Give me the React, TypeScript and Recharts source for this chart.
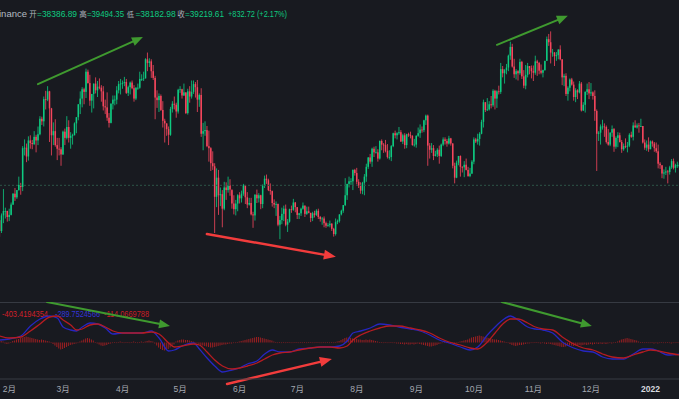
import React from 'react';
import { ComposedChart, Bar, Line, XAxis, YAxis, ReferenceLine } from 'recharts';

// ---------- data (prices in thousand USDT, day index 0 = 2021-01-27) ----------
const FIRST_OPEN = 32.47;

const CLOSE = [
  30.37, 33.40, 34.25, 34.26, 33.09,
  33.5, 35.5, 37.6, 36.9, 38.3, 39.3, 38.9, 46.4, 46.5, 44.8, 47.9, 47.4, 47.2, 48.6, 47.9, 49.1, 52.1, 51.6, 55.9, 55.8, 57.4, 54.1, 48.9, 49.7, 47.0, 46.3, 46.2, 45.2,
  49.6, 48.4, 50.5, 48.4, 48.8, 48.9, 51.2, 52.4, 54.9, 56.0, 57.8, 57.3, 61.2, 59.0, 55.6, 56.9, 58.9, 57.6, 58.3, 58.1, 57.4, 54.5, 54.3, 52.3, 51.3, 55.0, 55.8, 55.8, 57.6, 58.8, 58.9,
  59.0, 59.2, 57.1, 58.2, 59.1, 58.0, 56.0, 58.1, 58.1, 59.8, 59.8, 59.9, 63.6, 62.9, 63.2, 61.3, 60.0, 56.2, 55.7, 56.5, 53.8, 51.7, 51.2, 50.1, 49.0, 54.0, 55.0, 54.8, 53.5, 57.7,
  57.8, 56.6, 57.2, 53.2, 57.4, 56.4, 57.3, 58.8, 58.2, 55.8, 56.7, 49.2, 49.7, 49.9, 46.8, 46.4, 43.5, 42.9, 37.0, 40.7, 37.3, 37.5, 34.7, 38.8, 38.3, 39.2, 38.4, 35.7, 34.6, 35.7, 37.3,
  36.7, 37.6, 39.2, 36.9, 35.5, 35.8, 33.6, 33.4, 37.4, 36.7, 37.3, 35.6, 39.1, 40.5, 40.2, 38.3, 38.1, 35.8, 35.5, 35.6, 31.6, 32.5, 33.7, 34.7, 31.6, 32.2, 34.6, 34.5, 35.9, 35.0,
  33.5, 33.8, 34.7, 35.3, 33.7, 34.2, 33.9, 32.9, 33.8, 33.5, 34.3, 33.1, 32.7, 32.8, 31.9, 31.4, 31.5, 31.8, 30.8, 29.8, 32.1, 32.3, 33.6, 34.3, 35.4, 37.3, 39.5, 40.0, 40.0, 42.2, 41.6,
  39.9, 39.2, 38.2, 39.7, 40.9, 42.8, 44.6, 43.8, 46.3, 45.6, 45.6, 44.4, 47.8, 47.1, 47.0, 45.9, 44.7, 44.7, 46.8, 49.3, 48.9, 49.3, 49.5, 47.7, 48.9, 47.0, 49.1, 48.9, 48.8, 47.0, 47.1,
  48.8, 49.3, 50.0, 49.9, 51.8, 52.7, 46.9, 46.1, 46.4, 44.9, 45.2, 46.1, 44.9, 47.1, 48.1, 47.8, 47.3, 48.3, 47.3, 43.0, 40.7, 43.6, 44.9, 42.8, 42.7, 43.2, 42.2, 41.0, 41.5, 43.8,
  48.1, 47.7, 48.2, 49.2, 51.5, 55.3, 53.8, 53.9, 54.9, 54.7, 57.5, 56.0, 57.4, 57.3, 61.7, 60.9, 61.5, 62.0, 64.3, 66.0, 62.2, 60.7, 61.3, 60.9, 63.1, 60.3, 58.5, 60.6, 62.3, 61.9, 61.3,
  61.0, 63.2, 62.9, 61.4, 61.0, 61.5, 63.3, 67.5, 66.9, 64.9, 64.9, 64.2, 64.4, 65.5, 63.6, 60.1, 60.4, 56.9, 58.1, 59.7, 58.7, 56.3, 57.6, 57.2, 58.9, 53.7, 54.8, 57.3, 57.8, 57.0,
  57.2, 56.5, 53.6, 49.2, 49.4, 50.6, 50.6, 50.5, 47.6, 47.1, 49.4, 50.1, 46.7, 48.4, 48.9, 47.6, 46.2, 46.8, 46.7, 46.9, 49.0, 48.6, 50.8, 50.4, 50.8, 50.7, 50.7, 47.5, 46.5, 47.1, 46.2,
  47.7, 47.3, 46.4, 45.8, 43.4, 43.1, 41.5, 41.7, 41.9, 41.8, 42.7, 43.9, 42.6, 43.1, 43.1, 43.1,
];

const HIGH = [
  32.56, 33.78, 38.5, 34.9, 34.3,
  34.7, 35.9, 37.7, 38.7, 38.3, 40.9, 39.7, 46.8, 48.1, 47.3, 48.7, 48.9, 48.0, 49.7, 49.0, 50.6, 52.6, 52.5, 56.4, 57.5, 58.4, 57.5, 54.2, 51.4, 52.0, 48.4, 48.4, 46.6,
  49.8, 50.2, 52.6, 51.8, 49.5, 49.2, 51.4, 52.4, 54.9, 57.4, 58.2, 58.1, 61.8, 61.6, 60.6, 56.9, 58.9, 60.1, 59.4, 59.9, 58.6, 58.4, 55.8, 57.2, 53.2, 55.1, 56.6, 56.6, 58.4, 59.4, 59.8,
  59.5, 60.2, 59.8, 58.5, 59.3, 59.5, 58.6, 58.2, 58.9, 61.2, 60.7, 61.2, 63.8, 64.9, 63.8, 63.6, 62.5, 60.4, 57.6, 57.0, 56.8, 55.5, 52.1, 51.2, 50.6, 54.4, 55.5, 56.4, 55.2, 57.9,
  58.4, 57.9, 58.9, 57.2, 57.9, 58.4, 59.5, 59.5, 59.2, 59.6, 57.0, 58.0, 51.3, 51.6, 50.7, 49.8, 46.6, 45.8, 43.5, 42.5, 42.2, 38.8, 38.3, 39.9, 39.8, 40.9, 40.4, 38.2, 37.3, 36.4, 37.5,
  37.9, 38.2, 39.5, 39.3, 37.9, 36.8, 36.8, 34.1, 37.5, 38.4, 37.7, 37.4, 39.4, 41.1, 41.3, 40.5, 39.6, 38.2, 36.5, 36.1, 35.7, 33.3, 34.9, 35.3, 35.5, 32.7, 34.7, 35.3, 36.6, 36.0,
  35.0, 33.9, 34.9, 35.9, 35.3, 35.1, 35.1, 33.9, 34.1, 34.3, 34.6, 34.7, 33.3, 33.1, 33.2, 32.2, 31.9, 32.4, 31.9, 31.0, 32.8, 32.6, 33.6, 34.5, 35.4, 40.6, 39.5, 40.9, 40.6, 42.3, 42.4,
  42.6, 40.4, 39.8, 39.9, 41.4, 43.4, 44.7, 45.3, 46.5, 46.7, 46.8, 46.2, 47.9, 48.1, 47.4, 48.0, 47.2, 46.0, 47.0, 49.4, 49.8, 49.5, 50.5, 49.9, 49.2, 49.3, 49.2, 49.4, 49.6, 48.9, 48.2,
  48.9, 50.4, 51.0, 50.6, 51.9, 52.9, 52.9, 47.4, 47.4, 47.0, 45.9, 46.4, 46.9, 47.3, 48.5, 48.5, 48.2, 48.8, 48.4, 47.4, 43.6, 44.0, 44.9, 45.0, 42.9, 43.9, 44.4, 42.8, 42.6, 44.1,
  48.5, 48.4, 49.2, 49.5, 51.9, 55.8, 55.3, 56.1, 55.5, 56.5, 57.8, 57.7, 57.6, 58.5, 62.9, 62.3, 61.7, 62.7, 64.5, 67.0, 66.6, 63.7, 61.7, 61.5, 63.7, 63.3, 61.5, 62.5, 62.9, 62.3, 62.4,
  62.4, 64.3, 63.5, 63.1, 62.6, 61.6, 63.3, 68.0, 68.5, 69.0, 65.6, 65.0, 65.0, 65.5, 66.3, 63.6, 60.8, 60.9, 58.4, 59.9, 60.0, 59.3, 58.0, 57.8, 59.4, 59.2, 55.3, 57.4, 58.9, 59.2,
  59.0, 57.4, 57.6, 53.9, 49.7, 51.0, 51.9, 51.2, 50.8, 50.1, 49.5, 50.8, 50.3, 48.7, 49.5, 49.4, 48.0, 47.3, 48.3, 47.6, 49.3, 49.6, 51.4, 51.8, 51.2, 51.3, 52.1, 50.7, 48.1, 47.9, 48.5,
  47.9, 47.9, 47.6, 47.5, 47.1, 43.7, 43.1, 42.3, 42.8, 42.2, 43.0, 44.3, 44.4, 43.4, 43.8, 43.5,
];

const LOW = [
  29.24, 30.0, 31.9, 32.8, 32.2,
  32.3, 33.4, 35.4, 36.2, 36.6, 38.2, 37.4, 38.1, 45.0, 43.7, 44.0, 46.3, 46.2, 47.0, 45.6, 47.0, 48.9, 50.9, 50.6, 53.9, 55.5, 47.6, 45.0, 47.0, 46.7, 44.1, 45.0, 43.0,
  45.1, 47.0, 48.1, 47.5, 46.3, 47.1, 48.9, 49.3, 51.8, 53.0, 54.3, 54.9, 56.1, 58.9, 54.6, 53.3, 54.1, 57.0, 56.3, 57.8, 55.4, 53.7, 53.0, 51.7, 50.4, 51.2, 53.9, 54.7, 54.9, 57.0, 56.8,
  57.9, 58.4, 56.9, 56.5, 56.8, 57.8, 55.4, 55.7, 57.7, 57.9, 59.4, 59.4, 59.9, 61.3, 62.1, 60.0, 59.6, 52.0, 54.2, 53.4, 53.6, 50.4, 47.5, 48.8, 47.0, 48.8, 53.3, 53.9, 52.3, 53.1,
  57.1, 56.0, 56.5, 53.0, 52.9, 55.2, 56.0, 56.9, 56.2, 53.4, 54.4, 48.6, 46.0, 48.8, 46.6, 43.8, 42.0, 42.2, 30.0, 35.0, 33.5, 35.2, 31.1, 34.4, 36.4, 37.8, 37.2, 34.7, 33.6, 33.4, 34.2,
  35.7, 35.9, 37.2, 35.6, 34.8, 35.3, 33.4, 31.0, 32.4, 35.8, 35.9, 34.6, 34.8, 38.7, 39.5, 38.1, 37.4, 35.1, 34.8, 33.3, 31.3, 28.8, 31.7, 32.3, 31.3, 30.2, 32.0, 33.9, 34.3, 34.0,
  32.7, 32.7, 33.3, 34.5, 33.1, 33.5, 33.8, 32.1, 32.3, 33.0, 33.3, 32.7, 32.2, 31.6, 31.1, 31.0, 31.2, 31.1, 30.4, 29.3, 29.5, 31.7, 32.0, 33.4, 33.9, 35.2, 36.4, 38.8, 39.3, 38.3, 41.1,
  39.4, 38.7, 37.6, 37.5, 37.3, 39.9, 42.4, 43.4, 42.8, 44.7, 45.4, 43.8, 44.2, 46.0, 45.5, 45.6, 44.4, 44.2, 43.9, 46.6, 48.3, 48.1, 49.0, 47.6, 47.2, 46.3, 46.4, 48.6, 48.3, 46.9, 46.7,
  46.5, 48.6, 48.4, 49.4, 49.5, 50.9, 43.0, 44.4, 45.5, 44.1, 44.8, 44.7, 43.4, 44.7, 46.8, 47.1, 46.7, 47.1, 46.9, 42.5, 39.6, 40.6, 43.1, 40.9, 41.7, 40.8, 42.1, 40.9, 40.8, 41.4,
  43.3, 47.4, 47.1, 46.9, 49.1, 50.4, 53.4, 53.6, 53.7, 54.1, 54.4, 53.9, 54.2, 56.8, 56.9, 60.1, 58.9, 60.7, 61.3, 63.5, 62.0, 60.0, 59.7, 59.5, 60.6, 59.8, 58.0, 57.8, 60.1, 60.7, 59.9,
  59.4, 60.6, 60.4, 60.7, 60.7, 60.1, 61.4, 63.3, 66.2, 62.8, 64.1, 62.3, 63.3, 63.6, 63.4, 58.6, 58.4, 56.5, 55.6, 57.4, 58.5, 55.6, 55.3, 55.9, 57.0, 53.5, 53.6, 53.3, 56.7, 55.9,
  56.5, 55.8, 51.7, 42.0, 47.8, 47.1, 50.0, 48.6, 47.3, 46.9, 46.8, 48.6, 45.7, 46.3, 46.6, 47.5, 45.5, 45.9, 46.4, 45.6, 46.6, 48.4, 47.9, 50.4, 50.2, 49.4, 50.5, 47.3, 46.1, 45.9, 45.7,
  46.2, 46.7, 45.7, 45.5, 42.5, 42.4, 40.6, 40.5, 41.2, 39.6, 41.3, 42.4, 42.3, 41.7, 42.6, 42.7,
];

const LAST_PRICE = 39.21961;

const MONTH_TICKS = [5, 33, 64, 94, 125, 155, 186, 217, 247, 278, 308, 339];
const MONTH_LABELS = ['2月', '3月', '4月', '5月', '6月', '7月', '8月', '9月', '10月', '11月', '12月', '2022'];

// MACD pane
const HIST = [
  100, 150, 100, -100, -150, -100, 50, 150, 200, 300,
  350, 450, 500, 550, 600, 550, 500, 450, 400, 350,
  300, 250, 300, 250, 200, 150, 100, 50,
  -150, -300, -450, -600, -700, -650, -550, -450,
  -350, -250, -200, -150, -100, -50,
  100, 200, 300, 400, 450, 400, 300, 200,
  50, -100, -200, -300, -350, -300, -250, -150,
  -100, -50, 50, -50, 50, 100, 50, -50, 50, 50, -50, 50, 100, 50, -50, 50, 100, 50,
  100, 150, 200, 150, 100, -100, -300, -500,
  -650, -750, -800, -750, -650, -500, -350, -200,
  100, 200, 250, 300, 300, 250, 250, 200, 150, 100, 50, -50, -150,
  -250, -300, -350, -400, -450, -500, -500, -450, -400, -350, -300, -250, -200, -200, -150, -100, -100, -50, -50, 50, 100,
  150, 200, 250, 300, 350, 400, 450, 500, 550, 550, 500, 450, 400, 350, 300, 250, 200, 100,
  50, -50, 50, 0, 50, -50, 50, 50, 0, -50, 50, 50, 0, 50, -50, 50, 0, 50, 50, -50, 0, 50, 50, 0, -50, 50, 0, 50, -50, 50, 0, 50, 100, 150,
  250, 350, 450, 500, 500, 450, 400, 350, 350, 300, 300, 250, 250,
  300, 250, 300, 250, 200, 150, 100, 50,
  50, -50, 50, 0, -50, 50, 0, -50, -100, -100,
  -150, -150, -200, -150, -200, -200, -150, -200, -150, -100, -150, -200, -250, -300, -350, -400,
  -400, -350, -300, -250, -150, -100, -50,
  50, -50, 50, -50, 0, 50, -50, 50, 100, 150, 200, 250, 300,
  400, 500, 550, 600, 650, 700, 650, 600, 550, 500, 450, 400, 350, 300, 300, 250,
  200, 150, 100, 50, -50, -150, -250, -300,
  -350, -300, -250, -250, -200, -150, -100, -100, -50, -50, 50,
  50, -50, -100, -50, -100, -150, -100, -150, -200, -250,
  -300, -350, -400, -450, -450, -400, -350, -300, -300, -350, -300,
  -300, -250, -300, -250, -200, -250, -200, -150, -200, -150, -100, -150, -100,
  -150, -100, -150, -100, -50, -100, -50, 50, 100, 200, 300, 350,
  400, 450, 400, 350, 300, 250, 200, 100, 50,
  50, -50, 50, 0, -50, 50, -100, -50, -100, -50, 50, -50, 0, 50, -50, -100, -50, 0, 50, -50,
];

const MACD_DAYS = [0, 5, 11, 16, 21, 26, 30, 33, 37, 40, 43, 47, 51, 55, 59, 64, 69, 74, 79, 83, 88, 91, 95, 101, 104, 108, 112, 116, 121, 125, 129, 134, 138, 142, 146, 151, 156, 162, 167, 172, 177, 181, 184, 188, 193, 198, 203, 208, 214, 219, 224, 229, 234, 240, 245, 249, 254, 258, 262, 266, 270, 275, 279, 283, 288, 293, 299, 304, 309, 314, 319, 325, 330, 335, 339, 343, 348, 354];
const MACD_LINE = [250, 350, 650, 1650, 2350, 2650, 2450, 1550, 1250, 1150, 1550, 1950, 1850, 1450, 850, 950, 950, 950, 1150, 450, -850, -750, -350, -50, -650, -1550, -2350, -2950, -2750, -2550, -2150, -1850, -1150, -750, -950, -950, -650, -550, -450, -450, -350, 150, 950, 1150, 1450, 1850, 1750, 1550, 1350, 1150, 750, 250, -50, -450, -750, -450, 750, 1550, 2250, 2650, 2250, 1550, 1350, 1250, 950, 50, -550, -850, -950, -1450, -1650, -1650, -1150, -650, -650, -850, -1250, -1150];
const SIGNAL_LINE = [650, 450, 550, 1150, 1850, 2550, 2650, 2250, 1750, 1250, 1350, 1750, 1850, 1550, 1150, 950, 950, 950, 1050, 850, -50, -450, -350, -150, -250, -950, -1750, -2350, -2650, -2550, -2350, -2050, -1650, -1250, -1050, -950, -750, -550, -450, -450, -550, -350, 250, 750, 1150, 1450, 1650, 1650, 1450, 1250, 950, 450, 50, -250, -550, -650, 50, 950, 1850, 2350, 2350, 1950, 1550, 1350, 1250, 550, -150, -550, -750, -1150, -1450, -1550, -1250, -950, -750, -850, -1050, -1250];

// drawings (arrows) in data coordinates
const MAIN_ARROWS = [
  { x1: 19.9, y1: 58.8, x2: 74.6, y2: 67.9, kind: 'green' },
  { x1: 259.0, y1: 66.4, x2: 295.9, y2: 72.0, kind: 'green' },
  { x1: 107.9, y1: 29.8, x2: 175.1, y2: 25.4, kind: 'red' },
];
const MACD_ARROWS = [
  { x1: 24.6, y1: 4050, x2: 88.7, y2: 1650, kind: 'green' },
  { x1: 118.4, y1: -4150, x2: 173.0, y2: -1650, kind: 'red' },
  { x1: 261.5, y1: 4050, x2: 308.4, y2: 1650, kind: 'green' },
];

// ---------- styles ----------
const W = 679;
const H = 399;
const MAIN_H = 302;
const BG = '#181a20';
const UP = '#0ecb81';
const DOWN = '#f6465d';
const SEP = '#363a42';
const ARROW_GREEN = '#3f9a2f';
const ARROW_RED = '#f23c3c';
const FONT = "'Liberation Sans', 'Noto Sans CJK SC', sans-serif";

const X_DOMAIN: [number, number] = [0.156, 353.8];

const candles = CLOSE.map((c, i) => ({
  d: i,
  open: i === 0 ? FIRST_OPEN : CLOSE[i - 1],
  high: HIGH[i],
  low: LOW[i],
  close: c,
}));

const macdRows = HIST.map((h, i) => {
  const k = MACD_DAYS.indexOf(i);
  return {
    d: i,
    hist: h,
    macd: k >= 0 ? MACD_LINE[k] : null,
    signal: k >= 0 ? SIGNAL_LINE[k] : null,
  };
});

const Candle = (props: any) => {
  const { x, y, width, height, payload } = props;
  if (x == null || y == null || !payload) return null;
  const { open, close, high, low } = payload;
  const top = Math.min(y, y + height);
  const h = Math.abs(height);
  const cx = x + width / 2;
  const range = high - low;
  const py = (p: number) => (range === 0 ? top : top + ((high - p) / range) * h);
  const color = close >= open ? UP : DOWN;
  const yo = py(open);
  const yc = py(close);
  const bt = Math.min(yo, yc);
  const bh = Math.max(Math.abs(yo - yc), 0.8);
  return (
    <g>
      <line x1={cx} x2={cx} y1={top} y2={top + h} stroke={color} strokeWidth={0.8} />
      <rect x={cx - 0.75} y={bt} width={1.5} height={bh} fill={color} />
    </g>
  );
};

const HistBar = (props: any) => {
  const { x, y, width, height } = props;
  if (x == null || y == null) return null;
  const top = Math.min(y, y + height);
  const h = Math.max(Math.abs(height), 0.6);
  const cx = x + width / 2;
  return <rect x={cx - 0.5} y={top} width={1} height={h} fill="#9b1f22" />;
};

const arrowShape = (kind: string) => (p: any) => {
  const { x1, y1, x2, y2 } = p;
  const color = kind === 'green' ? ARROW_GREEN : ARROW_RED;
  const sw = kind === 'green' ? 2 : 2.4;
  const head = kind === 'green' ? 11 : 12;
  const hw = kind === 'green' ? 4.5 : 5;
  const dx = x2 - x1;
  const dy = y2 - y1;
  const len = Math.hypot(dx, dy) || 1;
  const ux = dx / len;
  const uy = dy / len;
  const bx = x2 - ux * head;
  const by = y2 - uy * head;
  const px = -uy * hw;
  const py = ux * hw;
  return (
    <g>
      <line x1={x1} y1={y1} x2={bx + ux} y2={by + uy} stroke={color} strokeWidth={sw} strokeLinecap="round" />
      <polygon points={`${x2},${y2} ${bx + px},${by + py} ${bx - px},${by - py}`} fill={color} />
    </g>
  );
};

const TimeTick = (props: any) => {
  const { x, y, payload } = props;
  const i = MONTH_TICKS.indexOf(payload.value);
  const label = i >= 0 ? MONTH_LABELS[i] : '';
  const isYear = /^\d{4}$/.test(label);
  return (
    <text
      x={x}
      y={y + 13}
      textAnchor="middle"
      fontSize={8.5}
      fontFamily={FONT}
      fontWeight={isYear ? 700 : 400}
      fill={isYear ? '#d6d9de' : '#a4a8b0'}
    >
      {label}
    </text>
  );
};

const HEADER = [
  { t: '开', x: 29.2, c: '#aeb4bc', s: 7.5 },
  { t: '=38386.89', x: 37, w: 40, c: UP },
  { t: '高', x: 79.2, c: '#aeb4bc', s: 7.5 },
  { t: '=39494.35', x: 87, w: 37, c: UP },
  { t: '低', x: 126.8, c: '#aeb4bc', s: 7.2 },
  { t: '=38182.98', x: 135.4, w: 40.4, c: UP },
  { t: '收', x: 177.2, c: '#aeb4bc', s: 7.5 },
  { t: '=39219.61', x: 185, w: 39, c: UP },
  { t: '+832.72 (+2.17%)', x: 228, w: 59, c: UP },
];

const MACD_LABELS = [
  { t: '-403.4194354', x: 2, w: 46, c: '#d3202a' },
  { t: '-289.7524566', x: 55, w: 45, c: '#3434d8' },
  { t: '-114.0669788', x: 104, w: 45, c: '#c81d24' },
];

export default function App() {
  return (
    <div style={{ position: 'absolute', left: 0, top: 0, width: W, height: H, background: BG, overflow: 'hidden' }}>
      {/* text labels */}
      <svg width={W} height={H} style={{ position: 'absolute', left: 0, top: 0 }}>
        <text x={27} y={16.5} textAnchor="end" fontSize={9.5} fontFamily={FONT} fill="#b4bac2">Binance</text>
        {HEADER.map((h, i) => (
          <text
            key={i}
            x={h.x}
            y={16.5}
            fontSize={h.s || 8.3}
            fontFamily={FONT}
            fill={h.c}
            {...(h.w ? { textLength: h.w, lengthAdjust: 'spacingAndGlyphs' } : {})}
          >
            {h.t}
          </text>
        ))}
        {MACD_LABELS.map((m, i) => (
          <text key={i} x={m.x} y={316.5} fontSize={8.5} fontFamily={FONT} fill={m.c} textLength={m.w} lengthAdjust="spacingAndGlyphs">
            {m.t}
          </text>
        ))}
      </svg>

      {/* separators */}
      <div style={{ position: 'absolute', left: 0, top: MAIN_H, width: W, height: 1, background: SEP }} />

      {/* main price pane */}
      <div style={{ position: 'absolute', left: 0, top: 0 }}>
        <ComposedChart width={W} height={MAIN_H} data={candles} margin={{ top: 0, right: 0, bottom: 0, left: 0 }}>
          <XAxis dataKey="d" type="number" domain={X_DOMAIN} allowDataOverflow hide />
          <YAxis type="number" domain={[16.65, 75.07]} allowDataOverflow hide />
          <ReferenceLine y={LAST_PRICE} stroke="#2d5546" strokeDasharray="2 2" strokeWidth={1} />
          <Bar dataKey={(r: any) => [r.low, r.high]} shape={Candle} isAnimationActive={false} barSize={2} />
          {MAIN_ARROWS.map((a, i) => (
            <ReferenceLine
              key={i}
              segment={[{ x: a.x1, y: a.y1 }, { x: a.x2, y: a.y2 }]}
              ifOverflow="visible"
              shape={arrowShape(a.kind)}
            />
          ))}
        </ComposedChart>
      </div>

      {/* MACD pane + time axis */}
      <div style={{ position: 'absolute', left: 0, top: MAIN_H }}>
        <ComposedChart width={W} height={H - MAIN_H} data={macdRows} margin={{ top: 0, right: 0, bottom: 0, left: 0 }}>
          <XAxis
            dataKey="d"
            type="number"
            domain={X_DOMAIN}
            allowDataOverflow
            ticks={MONTH_TICKS}
            interval={0}
            height={20}
            tickSize={0}
            tickMargin={0}
            tickLine={false}
            axisLine={{ stroke: SEP }}
            tick={<TimeTick />}
          />
          <YAxis type="number" domain={[-3650, 4050]} allowDataOverflow hide />
          <Bar dataKey="hist" shape={HistBar} isAnimationActive={false} barSize={1} />
          <Line dataKey="macd" type="monotone" stroke="#2626c0" strokeWidth={1.3} dot={false} connectNulls isAnimationActive={false} />
          <Line dataKey="signal" type="monotone" stroke="#b51c22" strokeWidth={1.3} dot={false} connectNulls isAnimationActive={false} />
          {MACD_ARROWS.map((a, i) => (
            <ReferenceLine
              key={i}
              segment={[{ x: a.x1, y: a.y1 }, { x: a.x2, y: a.y2 }]}
              ifOverflow="visible"
              shape={arrowShape(a.kind)}
            />
          ))}
        </ComposedChart>
      </div>
    </div>
  );
}
